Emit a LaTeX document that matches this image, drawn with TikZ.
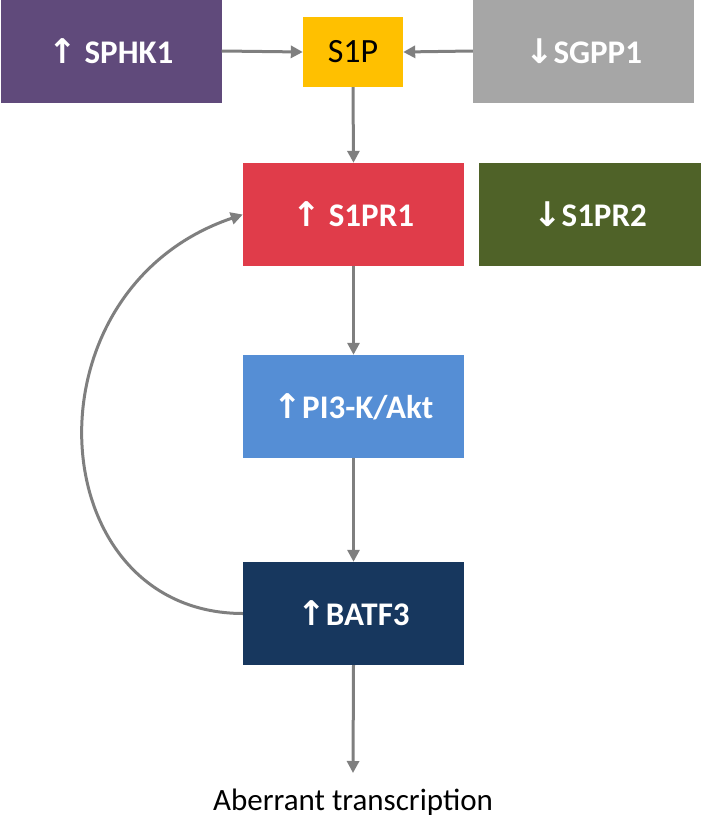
\documentclass[tikz,border=0pt]{standalone}
\usepackage{fontspec}
\setmainfont{Carlito}
\newfontfamily\arrowfont{DejaVu Sans}
\usetikzlibrary{arrows.meta}
\definecolor{cpurple}{HTML}{604A7B}
\definecolor{cyellow}{HTML}{FFC000}
\definecolor{cgray}{HTML}{A6A6A6}
\definecolor{cred}{HTML}{E03C4A}
\definecolor{cgreen}{HTML}{4F6228}
\definecolor{cblue}{HTML}{558ED5}
\definecolor{cnavy}{HTML}{17375E}
\definecolor{carrow}{HTML}{7F7F7F}
\newcommand{\upar}{{\arrowfont\bfseries\fontsize{34}{38}\selectfont\char"2191}}
\newcommand{\dnar}{{\arrowfont\bfseries\fontsize{34}{38}\selectfont\char"2193}}
\tikzset{
  box/.style={rectangle, inner sep=0pt, text=white, font=\bfseries\fontsize{33}{37}\selectfont, minimum width=221pt, minimum height=103pt},
  conn/.style={draw=carrow, line width=3pt, -{Triangle[length=12pt,width=12pt]}}
}
\begin{document}
\begin{tikzpicture}[x=1pt,y=-1pt]
\useasboundingbox (0,0) rectangle (701,819);
\node[box, fill=cpurple] (sphk) at (111,51) {\upar\ SPHK1};
\node[box, fill=cyellow, text=black, minimum width=100pt, minimum height=70pt, font=\fontsize{34}{38}\selectfont] (s1p) at (353,52) {S1P};
\node[box, fill=cgray] (sgpp) at (583.5,51) {\dnar SGPP1};
\node[box, fill=cred] (s1pr1) at (353.5,214.5) {\upar\ S1PR1};
\node[box, fill=cgreen, minimum width=222pt] (s1pr2) at (590,214.5) {\dnar S1PR2};
\node[box, fill=cblue] (pi3k) at (353.5,406.5) {\upar PI3-K/Akt};
\node[box, fill=cnavy] (batf) at (353.5,613.5) {\upar BATF3};
\node[font=\fontsize{31}{35}\selectfont, text=black, inner sep=0pt] (txt) at (353,802) {Aberrant transcription};
\coordinate (end) at (353,773);
\draw[conn] (sphk.east) -- (s1p.west);
\draw[conn] (sgpp.west) -- (s1p.east);
\draw[conn] (s1p.south) -- (s1pr1.north);
\draw[conn] (s1pr1.south) -- (pi3k.north);
\draw[conn] (pi3k.south) -- (batf.north);
\draw[conn] (batf.south) -- (end);
\draw[conn] (batf.west) .. controls (40,613) and (20,290) .. (s1pr1.west);
\end{tikzpicture}
\end{document}
